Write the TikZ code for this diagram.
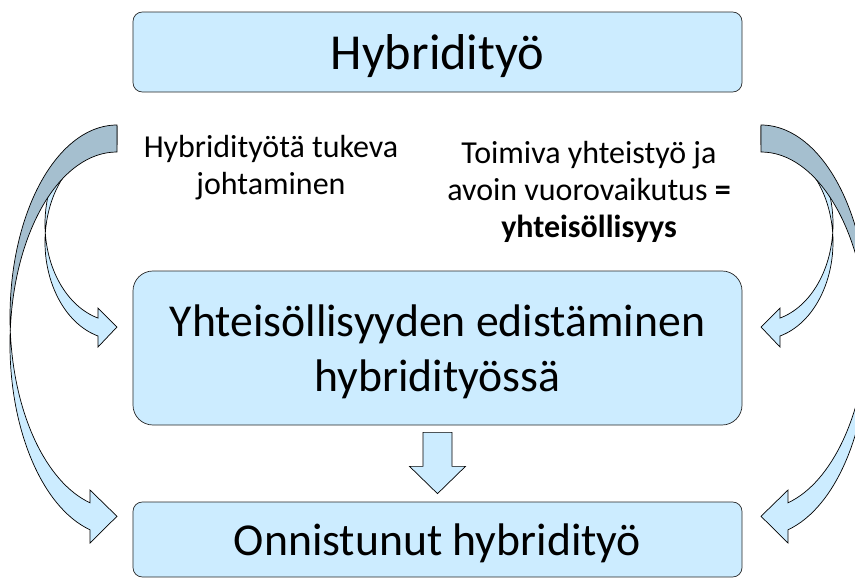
\documentclass[tikz,border=0pt]{standalone}
\usepackage{fontspec}
\setmainfont{Carlito}
\usetikzlibrary{calc}
\definecolor{boxblue}{RGB}{204, 236, 255}
\definecolor{backblue}{RGB}{165, 191, 207}

\begin{document}
\begin{tikzpicture}[x=0.03cm, y=-0.03cm, line width=0.6pt,
  box/.style={draw=black!85, fill=boxblue, rounded corners=8pt, align=center,
    minimum width=18.27cm, text depth=0pt, font=\fontsize{39}{47}\selectfont},
  note/.style={align=center, font=\fontsize{27.3}{31.5}\selectfont},
  front/.style={draw=black, fill=boxblue},
  back/.style={draw=black, fill=backblue}]

  \useasboundingbox (0, 0) rectangle (855, 579);
  \clip (0, 0) rectangle (855, 579);

  % curved arrows, left side and mirrored right side
  \foreach \side in {1, -1} {
    \begin{scope}[shift={({439 * (1 - \side)}, 0)}, xscale=\side]
      \draw[front] (10.27, 330.5) arc[start angle=175.97, end angle=104.6, x radius=107, y radius=192]
        -- (90, 490) -- (117, 516.3) -- (90, 543) -- (90, 529.8)
        arc[start angle=104.6, end angle=184.03, x radius=107, y radius=192] -- cycle;
      \draw[front] (117, 126.5) arc[start angle=270, end angle=105.3, x radius=72, y radius=97.5]
        -- (98, 308) -- (117, 327) -- (98, 347) -- (98, 336)
        arc[start angle=105.3, end angle=270, x radius=72, y radius=97.5] -- cycle;
      \draw[back] (117, 125) arc[start angle=270, end angle=175.97, x radius=107, y radius=192]
        arc[start angle=184.03, end angle=270, x radius=107, y radius=192] -- cycle;
    \end{scope}
  }

  \node[box, minimum height=2.4cm, font=\fontsize{43}{47}\selectfont] (hybrid) at (437.5, 52) {Hybridityö};
  \node[box, minimum height=4.62cm, rounded corners=17pt] (yhteis) at (437.5, 348)
    {Yhteisöllisyyden edistäminen\\hybridityössä};
  \node[box, minimum height=2.25cm] (onnistunut) at (437.5, 539.5) {Onnistunut hybridityö};

  \node[note] (tukeva) at (271, 168) {Hybridityötä tukeva\\johtaminen};
  \node[note] (toimiva) at (589, 192)
    {Toimiva yhteistyö ja\\avoin vuorovaikutus \textbf{=}\\\textbf{yhteisöllisyys}};

  \draw[front] ($(yhteis.south) + (-14.5, 7)$) -- ($(yhteis.south) + (-14.5, 41)$)
    -- ($(yhteis.south) + (-28, 41)$) -- ($(onnistunut.north) + (0, -8)$)
    -- ($(yhteis.south) + (28, 41)$) -- ($(yhteis.south) + (14.5, 41)$)
    -- ($(yhteis.south) + (14.5, 7)$) -- cycle;

\end{tikzpicture}
\end{document}
